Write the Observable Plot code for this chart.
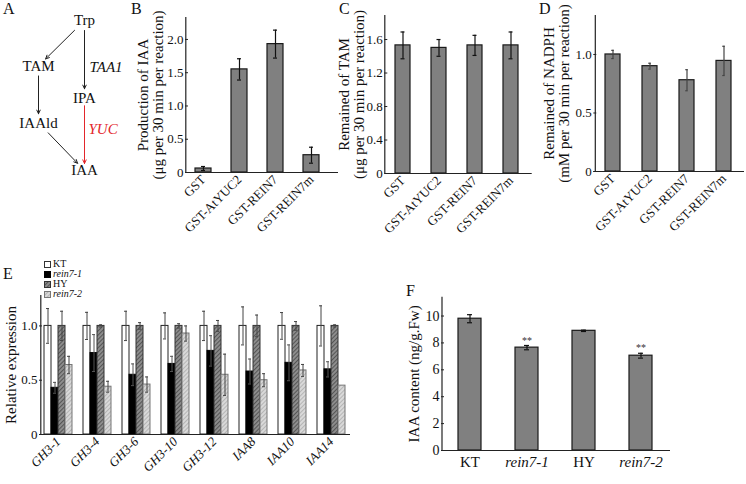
<!DOCTYPE html>
<html><head><meta charset="utf-8">
<script src="https://cdn.jsdelivr.net/npm/d3@7"></script>
<script src="https://cdn.jsdelivr.net/npm/@observablehq/plot@0.6"></script>
<style>
body{margin:0;background:#fff;}
#fig{position:relative;width:746px;height:484px;font-family:"Liberation Serif","Times New Roman",serif;overflow:hidden;background:#fff;}
#fig > svg{position:absolute;overflow:visible;}
.plabel{position:absolute;font-size:16px;line-height:16px;color:#111;}
.legend{position:absolute;left:44px;top:259px;font-size:10px;color:#111;}
.legend div{display:flex;align-items:center;height:10px;line-height:10px;}
.legend span{display:block;height:10px;line-height:10px;}
.legend svg{margin-right:2px;}
</style></head><body>
<svg width="0" height="0" style="position:absolute">
<defs>
<pattern id="hatchDark" patternUnits="userSpaceOnUse" width="3" height="3" patternTransform="rotate(45)">
<rect width="3" height="3" fill="#8e8e8e"/><line x1="0.5" y1="0" x2="0.5" y2="3" stroke="#555" stroke-width="1.1"/>
</pattern>
<pattern id="hatchLight" patternUnits="userSpaceOnUse" width="3" height="3" patternTransform="rotate(45)">
<rect width="3" height="3" fill="#d9d9d9"/><line x1="0.5" y1="0" x2="0.5" y2="3" stroke="#b5b5b5" stroke-width="1"/>
</pattern>
</defs></svg>
<div id="fig"></div>
<script>
// ---------- Panel A: pathway ----------
const nodeNames = ["Trp", "TAM", "IPA", "IAAld", "IAA"];
const nodeCol = [1, 0, 1, 0, 1];
const nodeRow = [0, 1, 1.7, 2.25, 3.3];
const edgeFrom = ["Trp", "TAM", "Trp", "IPA", "IAAld"];
const edgeTo = ["TAM", "IAAld", "IPA", "IAA", "IAA"];
const edgeLabel = ["", "", "TAA1", "YUC", ""];
const edgeHighlight = [false, false, false, true, false];

// ---------- Panels B, C, D ----------
const enzymes = ["GST", "GST-AtYUC2", "GST-REIN7", "GST-REIN7m"];
const iaaProduction = [0.06, 1.55, 1.93, 0.26];
const iaaProductionErr = [0.03, 0.16, 0.21, 0.12];
const tamRemained = [1.53, 1.50, 1.53, 1.53];
const tamRemainedErr = [0.16, 0.10, 0.12, 0.16];
const nadphRemained = [1.0, 0.90, 0.78, 0.945];
const nadphRemainedErr = [0.035, 0.025, 0.09, 0.125];
const ticksB = [0, 0.5, 1.0, 1.5, 2.0];
const ticksC = [0, 0.4, 0.8, 1.2, 1.6];
const ticksD = [0, 0.5, 1.0];

// ---------- Panel E ----------
const genes = ["GH3-1", "GH3-4", "GH3-6", "GH3-10", "GH3-12", "IAA8", "IAA10", "IAA14"];
const lines = ["KT", "rein7-1", "HY", "rein7-2"];
const exprKT = [1, 1, 1, 1, 1, 1, 1, 1];
const exprKTErr = [0.16, 0.125, 0.135, 0.12, 0.135, 0.175, 0.123, 0.185];
const exprRein71 = [0.43, 0.75, 0.55, 0.65, 0.77, 0.58, 0.66, 0.60];
const exprRein71Err = [0.05, 0.17, 0.10, 0.07, 0.14, 0.115, 0.165, 0.07];
const exprHY = [1, 1, 1, 1, 1, 1, 1, 1];
const exprHYErr = [0.135, 0.01, 0.03, 0.02, 0.05, 0.10, 0.04, 0.01];
const exprRein72 = [0.64, 0.44, 0.46, 0.93, 0.55, 0.50, 0.59, 0.45];
const exprRein72Err = [0.08, 0.05, 0.07, 0.07, 0.19, 0.06, 0.055, 0];
const ticksE = [0, 0.5, 1.0];

// ---------- Panel F ----------
const iaaContent = [9.8, 7.65, 8.9, 7.05];
const iaaContentErr = [0.3, 0.16, 0.05, 0.18];
const iaaSignif = ["", "**", "", "**"];
const ticksF = [0, 2, 4, 6, 8, 10];

const fig = document.getElementById("fig");
const FONT = '"Liberation Serif","Times New Roman",serif';
const fmt1 = d => d === 0 ? "0" : d.toFixed(1);

function place(el, left, top) {
  el.style.position = "absolute";
  el.style.left = left + "px";
  el.style.top = top + "px";
  fig.appendChild(el);
}

// ---- A ----
{
  const nodes = nodeNames.map((n, i) => ({n, c: nodeCol[i], r: nodeRow[i]}));
  const byName = Object.fromEntries(nodes.map(d => [d.n, d]));
  const edges = edgeFrom.map((f, i) => ({f: byName[f], t: byName[edgeTo[i]], label: edgeLabel[i], hi: edgeHighlight[i]}));
  const arrowOpts = {x1: d => d.f.c, y1: d => d.f.r, x2: d => d.t.c, y2: d => d.t.r, headLength: 6, headAngle: 50, strokeWidth: 1};
  const vert = edges.filter(d => d.f.c === d.t.c), diag = edges.filter(d => d.f.c !== d.t.c);
  const a = Plot.plot({
    width: 130, height: 200, margin: 0,
    x: {domain: [0, 1], range: [38, 84]},
    y: {domain: [0, 3.3], range: [20, 170]},
    axis: null,
    style: {fontFamily: FONT, background: "transparent", overflow: "visible"},
    marks: [
      Plot.arrow(vert.filter(d => !d.hi), {...arrowOpts, stroke: "#222", insetStart: 10, insetEnd: 9}),
      Plot.arrow(vert.filter(d => d.hi), {...arrowOpts, stroke: "#e3262b", insetStart: 8, insetEnd: 7}),
      Plot.arrow(diag, {...arrowOpts, stroke: "#222", insetStart: 14, insetEnd: 10}),
      Plot.text(nodes, {x: "c", y: "r", text: "n", fontSize: 15, fill: "#111"}),
      Plot.text(edges.filter(d => d.label && !d.hi), {x: d => d.f.c, y: d => (d.f.r + d.t.r) / 2, text: "label", textAnchor: "start", dx: 5, dy: 8, fontStyle: "italic", fontSize: 15, fill: "#111"}),
      Plot.text(edges.filter(d => d.label && d.hi), {x: d => d.f.c, y: d => (d.f.r + d.t.r) / 2, text: "label", textAnchor: "start", dx: 4, dy: -5, fontStyle: "italic", fontSize: 15, fill: "#e3262b"})
    ]
  });
  place(a, 0, 0);
}

// ---- bar panel helper ----
function barPanel(o) {
  const data = o.names.map((n, i) => ({n, v: o.values[i], e: o.errs[i]}));
  const step = (o.c1 - o.c0) / (o.names.length - 1);
  const pad = 1 - o.bw / step;
  const cap = o.capW ?? 4;
  const marks = [
    Plot.barY(data, {x: "n", y: "v", fill: "#808080", stroke: "#1a1a1a", strokeWidth: 1.2}),
    Plot.ruleX(data, {x: "n", y1: d => d.v - d.e, y2: d => d.v + d.e, stroke: o.errColor, strokeWidth: 1.2}),
    Plot.tickY(data, {x: "n", y: d => d.v + d.e, stroke: o.errColor, strokeWidth: 1.2, insetLeft: (o.bw - cap) / 2, insetRight: (o.bw - cap) / 2}),
    Plot.tickY(data, {x: "n", y: d => d.v - d.e, stroke: o.errColor, strokeWidth: 1.2, insetLeft: (o.bw - cap) / 2, insetRight: (o.bw - cap) / 2}),
    Plot.ruleY([0], {stroke: "#222", strokeWidth: 1.2}),
    Plot.ruleX([o.names[0]], {x: d => d, y1: 0, y2: o.yMax, dx: o.mL - o.c0, stroke: "#222", strokeWidth: 1.2}),
    Plot.axisY({ticks: o.ticks, tickFormat: o.fmt, tickSize: -3, tickPadding: 5, label: null, fontSize: o.tickFont ?? 13, stroke: "#222", fill: "#111"}),
    Plot.text([o.title], {frameAnchor: "left", textAnchor: "middle", rotate: -90, dx: o.titleDx, lineAnchor: "middle", fontSize: 15, lineHeight: 1.0, fill: "#111"})
  ];
  if (o.rotate) {
    marks.push(Plot.axisX({tickRotate: -45, tickSize: 0, tickPadding: 5, label: null, fontSize: 13, fill: "#111"}));
  } else {
    marks.push(Plot.axisX({ticks: o.plainTicks, tickSize: 0, tickPadding: 6, label: null, fontSize: 15, fill: "#111"}));
    marks.push(Plot.axisX({ticks: o.italicTicks, tickSize: 0, tickPadding: 6, label: null, fontSize: 15, fontStyle: "italic", fill: "#111"}));
  }
  if (o.signif) {
    const sd = data.map((d, i) => ({...d, s: o.signif[i]})).filter(d => d.s);
    marks.push(Plot.text(sd, {x: "n", y: d => d.v + d.e, text: "s", dy: -5, fontSize: 10, fill: "#333"}));
  }
  const chart = Plot.plot({
    width: o.width, height: o.height,
    marginLeft: o.mL, marginRight: o.mR, marginTop: o.mT, marginBottom: o.mB,
    x: {domain: o.names, range: [o.c0 - step / 2, o.c1 + step / 2], paddingInner: pad, paddingOuter: pad / 2, label: null},
    y: {domain: [0, o.yMax], label: null},
    style: {fontFamily: FONT, background: "transparent", overflow: "visible", color: "#111"},
    marks
  });
  place(chart, o.left, o.top);
}

// ---- B ----
barPanel({names: enzymes, values: iaaProduction, errs: iaaProductionErr, left: 130, top: 0, width: 215, height: 255,
  mL: 55, mR: 7, mT: 17, mB: 83, yMax: 2.33, ticks: ticksB, fmt: fmt1, c0: 72.7, c1: 181, bw: 16,
  errColor: "#111", rotate: true, titleDx: -35, title: "Production of IAA\n(μg per 30 min per reaction)"});
// ---- C ----
barPanel({names: enzymes, values: tamRemained, errs: tamRemainedErr, left: 330, top: 0, width: 210, height: 255,
  mL: 54.3, mR: 8.3, mT: 15, mB: 82, yMax: 1.887, ticks: ticksC, fmt: fmt1, c0: 72.5, c1: 181, bw: 15,
  errColor: "#111", rotate: true, titleDx: -33, title: "Remained of TAM\n(μg per 30 min per reaction)"});
// ---- D ----
barPanel({names: enzymes, values: nadphRemained, errs: nadphRemainedErr, left: 540, top: 0, width: 206, height: 255,
  mL: 53.3, mR: 2, mT: 15, mB: 84, yMax: 1.333, ticks: ticksD, fmt: fmt1, c0: 71, c1: 184.7, bw: 15.5, capW: 3,
  errColor: "#444", rotate: true, titleDx: -37, title: "Remained of NADPH\n(mM per 30 min per reaction)"});

// ---- E ----
{
  const series = [[exprKT, exprKTErr], [exprRein71, exprRein71Err], [exprHY, exprHYErr], [exprRein72, exprRein72Err]];
  const fills = ["#ffffff", "#000000", "url(#hatchDark)", "url(#hatchLight)"];
  const strokes = ["#222", "#000", "#333", "#777"];
  const mL = 39, c0 = 56.7, c1 = 332.3, bw = 28, sub = bw / 4, cap = 3;
  const step = (c1 - c0) / (genes.length - 1);
  const pad = 1 - bw / step;
  const marks = [];
  lines.forEach((ln, k) => {
    const data = genes.map((g, i) => ({g, v: series[k][0][i], e: series[k][1][i]}));
    marks.push(Plot.barY(data, {x: "g", y: "v", fill: fills[k], stroke: strokes[k], strokeWidth: 1, insetLeft: k * sub, insetRight: (3 - k) * sub}));
  });
  lines.forEach((ln, k) => {
    const data = genes.map((g, i) => ({g, v: series[k][0][i], e: series[k][1][i]})).filter(d => d.e > 0);
    const dx = -bw / 2 + sub * (k + 0.5);
    const errStroke = k === 1 ? "#555" : "#444";
    marks.push(Plot.ruleX(data, {x: "g", y1: d => d.v - d.e, y2: d => d.v + d.e, dx, stroke: errStroke, strokeWidth: 1}));
    marks.push(Plot.tickY(data, {x: "g", y: d => d.v + d.e, stroke: errStroke, insetLeft: k * sub + (sub - cap) / 2, insetRight: (3 - k) * sub + (sub - cap) / 2}));
    marks.push(Plot.tickY(data, {x: "g", y: d => d.v - d.e, stroke: errStroke, insetLeft: k * sub + (sub - cap) / 2, insetRight: (3 - k) * sub + (sub - cap) / 2}));
  });
  marks.push(
    Plot.ruleY([0], {stroke: "#222", strokeWidth: 1.2}),
    Plot.ruleX([genes[0]], {x: d => d, y1: 0, y2: 1.28, dx: mL - c0, stroke: "#222", strokeWidth: 1.2}),
    Plot.axisY({ticks: ticksE, tickFormat: fmt1, tickSize: -3, tickPadding: 5, label: null, fontSize: 13, stroke: "#222", fill: "#111"}),
    Plot.axisX({tickRotate: -45, tickSize: 0, tickPadding: 5, label: null, fontSize: 13, fontStyle: "italic", fill: "#111"}),
    Plot.text(["Relative expression"], {frameAnchor: "left", textAnchor: "middle", rotate: -90, dx: -28, fontSize: 15, fill: "#111"})
  );
  const e = Plot.plot({
    width: 360, height: 234, marginLeft: mL, marginRight: 10, marginTop: 45, marginBottom: 50,
    x: {domain: genes, range: [c0 - step / 2, c1 + step / 2], paddingInner: pad, paddingOuter: pad / 2, label: null},
    y: {domain: [0, 1.28], label: null},
    style: {fontFamily: FONT, background: "transparent", overflow: "visible", color: "#111"},
    marks
  });
  place(e, 0, 250);

  // legend
  const leg = document.createElement("div");
  leg.className = "legend";
  lines.forEach((ln, k) => {
    const row = document.createElement("div");
    row.innerHTML = `<svg width="7" height="7"><rect x="0.5" y="0.5" width="6" height="6" fill="${fills[k]}" stroke="${k === 0 ? '#333' : strokes[k]}"/></svg><span style="${ln.startsWith('rein') ? 'font-style:italic' : ''}">${ln}</span>`;
    leg.appendChild(row);
  });
  fig.appendChild(leg);
}

// ---- F ----
barPanel({names: lines, values: iaaContent, errs: iaaContentErr, left: 390, top: 280, width: 300, height: 204,
  mL: 51, mR: 20, mT: 16.7, mB: 34, yMax: 11.4, ticks: ticksF, fmt: d => String(d), c0: 79, c1: 251.5, bw: 23, capW: 5,
  errColor: "#111", rotate: false, plainTicks: ["KT", "HY"], italicTicks: ["rein7-1", "rein7-2"], signif: iaaSignif,
  titleDx: -27, title: "IAA content (ng/g.Fw)", tickFont: 14});

// ---- panel letters ----
[["A", 3, 1], ["B", 131, 1], ["C", 339, 1], ["D", 539, 1], ["E", 3, 266], ["F", 406, 283]].forEach(([t, x, y]) => {
  const d = document.createElement("div");
  d.className = "plabel"; d.textContent = t; d.style.left = x + "px"; d.style.top = y + "px";
  fig.appendChild(d);
});
</script>
</body></html>
